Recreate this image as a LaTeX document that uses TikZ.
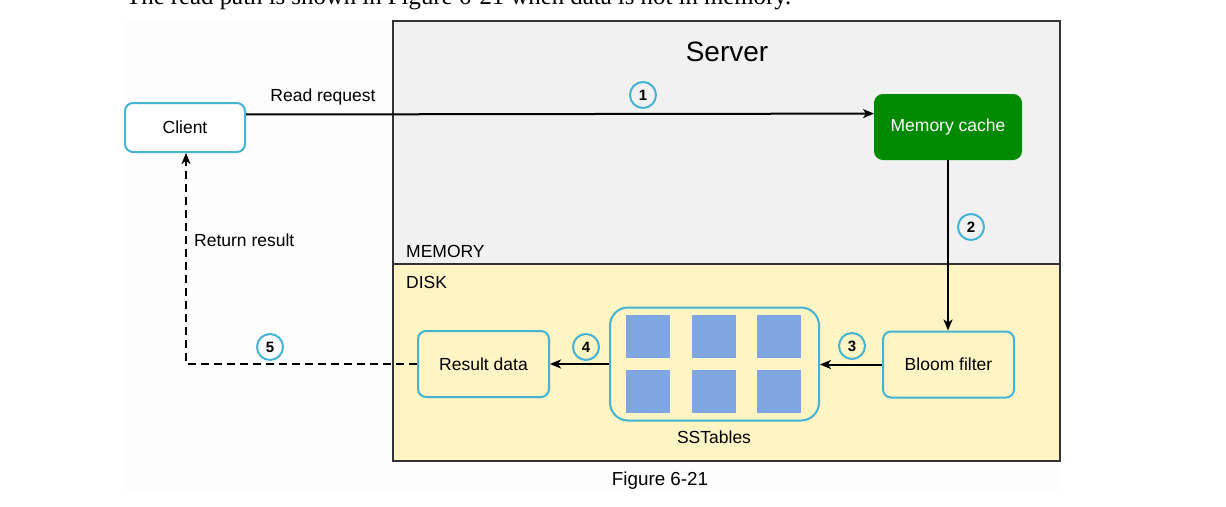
\documentclass[tikz,border=0pt]{standalone}
\usepackage{fontspec}
\setmainfont{Liberation Sans}
\newfontfamily\seriffont{Liberation Serif}
\usetikzlibrary{arrows.meta,calc}
\definecolor{bluebd}{HTML}{45B3D4}
\definecolor{memgray}{HTML}{F1F1F1}
\definecolor{diskyel}{HTML}{FFF4C3}
\definecolor{cachegreen}{HTML}{008A00}
\definecolor{sqblue}{HTML}{7EA6E0}
\definecolor{pagebg}{HTML}{FDFDFD}
\definecolor{framegray}{HTML}{333333}
\newcommand{\fs}[1]{\fontsize{#1}{#1}\selectfont}
\tikzset{
  box/.style={draw=bluebd, line width=2pt, rounded corners=8pt, inner sep=0pt, align=center, font=\fs{17.5}},
  stepnum/.style={circle, draw=bluebd, line width=2pt, minimum size=26pt, inner sep=0pt, font=\bfseries\fs{15}},
  sq/.style={fill=sqblue, minimum width=44pt, minimum height=43pt, inner sep=0pt},
  flow/.style={line width=2pt, -{Stealth[length=11pt,width=9pt,inset=3pt]}},
  lbl/.style={inner sep=0pt, font=\fs{17.5}}
}
\begin{document}
\begin{tikzpicture}[x=1pt,y=-1pt]
\useasboundingbox (0,0) rectangle (1226,506);
\clip (0,0) rectangle (1226,506);
% background panel
\fill[pagebg] (124,21) rectangle (1061,491);
% top cut text
\node[anchor=base west, inner sep=0pt, font=\seriffont\fontsize{24.8}{26}\selectfont] (intro) at (126,5) {The read path is shown in Figure 6-21 when data is not in memory.};
% server regions
\fill[memgray] (393,21) rectangle (1060,264);
\fill[diskyel] (393,264) rectangle (1060,461);
\draw[framegray, line width=1.5pt] (393,21) rectangle (1060,461);
\draw[framegray, line width=1.5pt] (393,264) -- (1060,264);
\node[inner sep=0pt, font=\fs{28}] (server) at (727,52) {Server};
\node[lbl, anchor=west] (memlbl) at (406,251) {MEMORY};
\node[lbl, anchor=west] (disklbl) at (406,282) {DISK};
% nodes
\node[box, fill=white, minimum width=120pt, minimum height=49pt] (client) at (185,127.5) {Client};
\node[box, draw=cachegreen, fill=cachegreen, text=white, minimum width=146pt, minimum height=64pt] (cache) at (948,127) {Memory cache};
\node[box, fill=diskyel, minimum width=131pt, minimum height=66pt] (bloom) at (948.5,364.5) {Bloom filter};
\node[box, fill=diskyel, minimum width=131pt, minimum height=66pt] (result) at (483.5,364) {Result data};
\node[box, fill=diskyel, rounded corners=18pt, minimum width=209pt, minimum height=113pt] (sst) at (714.5,364) {};
\node[sq] (s1) at (648,336.5) {};
\node[sq] (s2) at (714,336.5) {};
\node[sq] (s3) at (779,336.5) {};
\node[sq] (s4) at (648,391.5) {};
\node[sq] (s5) at (714,391.5) {};
\node[sq] (s6) at (779,391.5) {};
\node[lbl] (sstlbl) at (714,437) {SSTables};
% labels
\node[lbl] (readreq) at (323,97) {Read request};
\node[lbl, anchor=west] (retres) at (194,240) {Return result};
\node[inner sep=0pt, font=\fs{18.8}] (fig) at (660,481) {Figure 6-21};
% step circles
\node[stepnum] (n1) at (643,95) {1};
\node[stepnum] (n2) at (971,227) {2};
\node[stepnum] (n3) at (852,346) {3};
\node[stepnum] (n4) at (586,347) {4};
\node[stepnum] (n5) at (270,347) {5};
% connectors
\draw[flow] ($(client.north east)!0.245!(client.south east)$) -- ($(cache.north west)!0.297!(cache.south west)$);
\draw[flow] (cache.south) -- (cache.south |- bloom.north);
\draw[flow] (bloom.west) -- (bloom.west -| sst.east);
\draw[flow] (sst.west) -- (sst.west -| result.east);
\draw[flow, dash pattern=on 8pt off 5pt] (result.west) -- ([xshift=1pt]client.south |- result.west) -- ([xshift=1pt]client.south);
\end{tikzpicture}
\end{document}
